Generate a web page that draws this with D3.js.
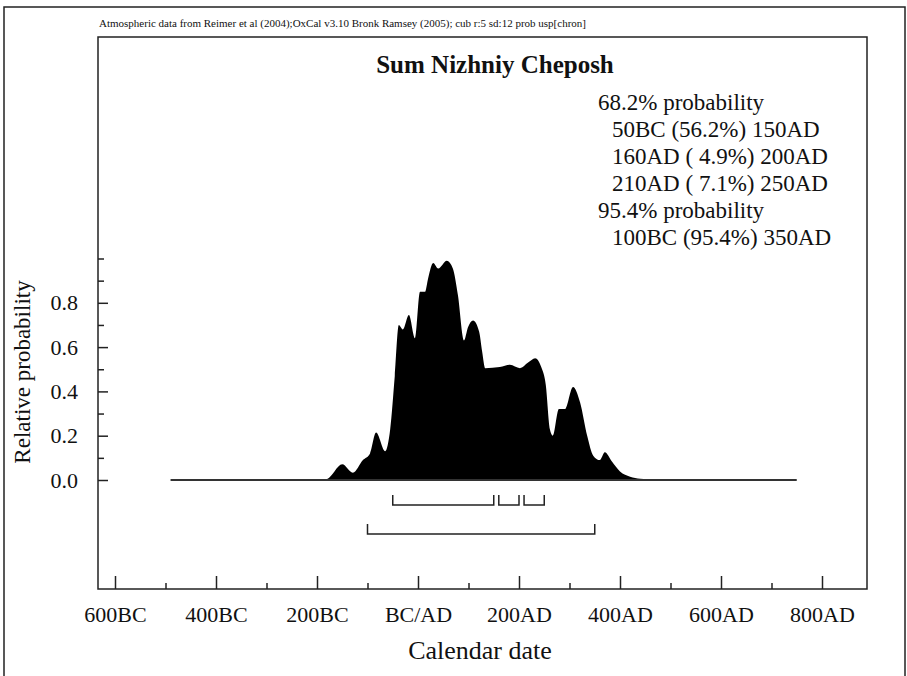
<!DOCTYPE html>
<html>
<head>
<meta charset="utf-8">
<script src="https://cdn.jsdelivr.net/npm/d3@7"></script>
<style>
  body { margin: 0; background: #fff; }
  svg text { font-family: "Liberation Serif", "Times New Roman", serif; fill: #111; }
</style>
</head>
<body>
<div id="chart"></div>
<script>
// summed probability
const years = [-490, -200, -180, -150, -129, -109, -95, -83, -65, -55, -46, -38, -30, -18, -6, 4, 14, 20, 30, 40, 57, 69, 79, 91, 99, 109, 121, 127, 133, 162, 182, 202, 218, 232, 244, 253, 261, 267, 279, 291, 307, 321, 335, 347, 360, 370, 384, 400, 420, 440, 480, 533, 750];
const probs = [0, 0, 0.005, 0.071, 0.033, 0.09, 0.12, 0.214, 0.13, 0.23, 0.47, 0.70, 0.68, 0.745, 0.64, 0.85, 0.85, 0.91, 0.98, 0.955, 0.99, 0.955, 0.835, 0.63, 0.69, 0.72, 0.67, 0.58, 0.505, 0.51, 0.52, 0.505, 0.53, 0.55, 0.51, 0.43, 0.23, 0.20, 0.32, 0.32, 0.42, 0.35, 0.20, 0.11, 0.09, 0.125, 0.083, 0.038, 0.015, 0.006, 0.002, 0.001, 0];

const ranges68 = [[-50, 150], [160, 200], [210, 250]];
const ranges95 = [[-100, 350]];

const legendLines = [
  "68.2% probability",
  "  50BC (56.2%) 150AD",
  "  160AD ( 4.9%) 200AD",
  "  210AD ( 7.1%) 250AD",
  "95.4% probability",
  "  100BC (95.4%) 350AD"
];

const xMajor = [-600, -400, -200, 0, 200, 400, 600, 800];
const xMinor = [-500, -300, -100, 100, 300, 500, 700];
const yMajor = [0, 0.2, 0.4, 0.6, 0.8];
const yMinor = [0.1, 0.3, 0.5, 0.7, 0.9, 1.0];

const width = 907, height = 676;
const box = { left: 98, top: 37, right: 867, bottom: 589 };

const svg = d3.select("#chart").append("svg")
  .attr("width", width)
  .attr("height", height);

// outer frame
svg.append("rect")
  .attr("x", 4).attr("y", 7)
  .attr("width", 901).attr("height", 690)
  .attr("fill", "none").attr("stroke", "#222").attr("stroke-width", 1.5);

svg.append("text")
  .attr("x", 99).attr("y", 27)
  .style("font-size", "11px")
  .text("Atmospheric data from Reimer et al (2004);OxCal v3.10 Bronk Ramsey (2005); cub r:5 sd:12 prob usp[chron]");

// plot box
svg.append("rect")
  .attr("x", box.left).attr("y", box.top)
  .attr("width", box.right - box.left).attr("height", box.bottom - box.top)
  .attr("fill", "none").attr("stroke", "#222").attr("stroke-width", 1.5);

const x = d3.scaleLinear().domain([-600, 800]).range([115, 822]);
const y = d3.scaleLinear().domain([0, 1]).range([480, 258.5]);

const fmtYear = d => d < 0 ? (-d) + "BC" : d === 0 ? "BC/AD" : d + "AD";

// x ticks (inward)
function xTicks(vals, size) {
  svg.append("g")
    .attr("transform", `translate(0,${box.bottom})`)
    .call(d3.axisTop(x).tickValues(vals).tickSize(size).tickFormat(""))
    .call(g => g.select(".domain").remove())
    .call(g => g.selectAll("line").attr("stroke", "#222").attr("stroke-width", 1.5));
}
xTicks(xMajor, 13);
xTicks(xMinor, 6);

svg.append("g")
  .attr("transform", `translate(0,${box.bottom})`)
  .call(d3.axisBottom(x).tickValues(xMajor).tickSize(0).tickPadding(17).tickFormat(fmtYear))
  .call(g => g.select(".domain").remove())
  .call(g => g.selectAll("text").style("font-size", "22px").attr("fill", "#111"));

// y ticks (inward)
function yTicks(vals, size) {
  svg.append("g")
    .attr("transform", `translate(${box.left},0)`)
    .call(d3.axisRight(y).tickValues(vals).tickSize(size).tickFormat(""))
    .call(g => g.select(".domain").remove())
    .call(g => g.selectAll("line").attr("stroke", "#222").attr("stroke-width", 1.5));
}
yTicks(yMajor, 10);
yTicks(yMinor, 6);

svg.append("g")
  .attr("transform", `translate(${box.left},0)`)
  .call(d3.axisLeft(y).tickValues(yMajor).tickSize(0).tickPadding(20).tickFormat(d3.format(".1f")))
  .call(g => g.select(".domain").remove())
  .call(g => g.selectAll("text").style("font-size", "22px").attr("fill", "#111"));

// axis titles
svg.append("text")
  .attr("transform", "translate(30,372) rotate(-90)")
  .attr("text-anchor", "middle")
  .style("font-size", "23px")
  .text("Relative probability");

svg.append("text")
  .attr("x", 480).attr("y", 659)
  .attr("text-anchor", "middle")
  .style("font-size", "26px")
  .text("Calendar date");

// title
svg.append("text")
  .attr("x", 495).attr("y", 73)
  .attr("text-anchor", "middle")
  .style("font-size", "25px")
  .style("font-weight", "bold")
  .text("Sum Nizhniy Cheposh");

// legend text
svg.append("g").selectAll("text")
  .data(legendLines)
  .join("text")
  .attr("x", d => d.startsWith("  ") ? 612 : 598)
  .attr("y", (d, i) => 110 + i * 27)
  .style("font-size", "23px")
  .style("white-space", "pre")
  .text(d => d.trim());

// distribution
const pts = years.map((yr, i) => [yr, probs[i]]);
svg.append("path")
  .datum(pts)
  .attr("d", d3.area()
    .x(d => x(d[0]))
    .y0(y(0))
    .y1(d => y(d[1]))
    .curve(d3.curveMonotoneX))
  .attr("fill", "#000");

svg.append("line")
  .attr("x1", x(years[0])).attr("x2", x(years[years.length - 1]))
  .attr("y1", y(0)).attr("y2", y(0))
  .attr("stroke", "#333").attr("stroke-width", 2);

// range brackets
function brackets(ranges, yPos) {
  const line = d3.line();
  ranges.forEach(r => {
    svg.append("path")
      .attr("d", line([[x(r[0]), yPos - 10], [x(r[0]), yPos], [x(r[1]), yPos], [x(r[1]), yPos - 10]]))
      .attr("fill", "none")
      .attr("stroke", "#222")
      .attr("stroke-width", 1.5);
  });
}
brackets(ranges68, 505);
brackets(ranges95, 534);
</script>
</body>
</html>
